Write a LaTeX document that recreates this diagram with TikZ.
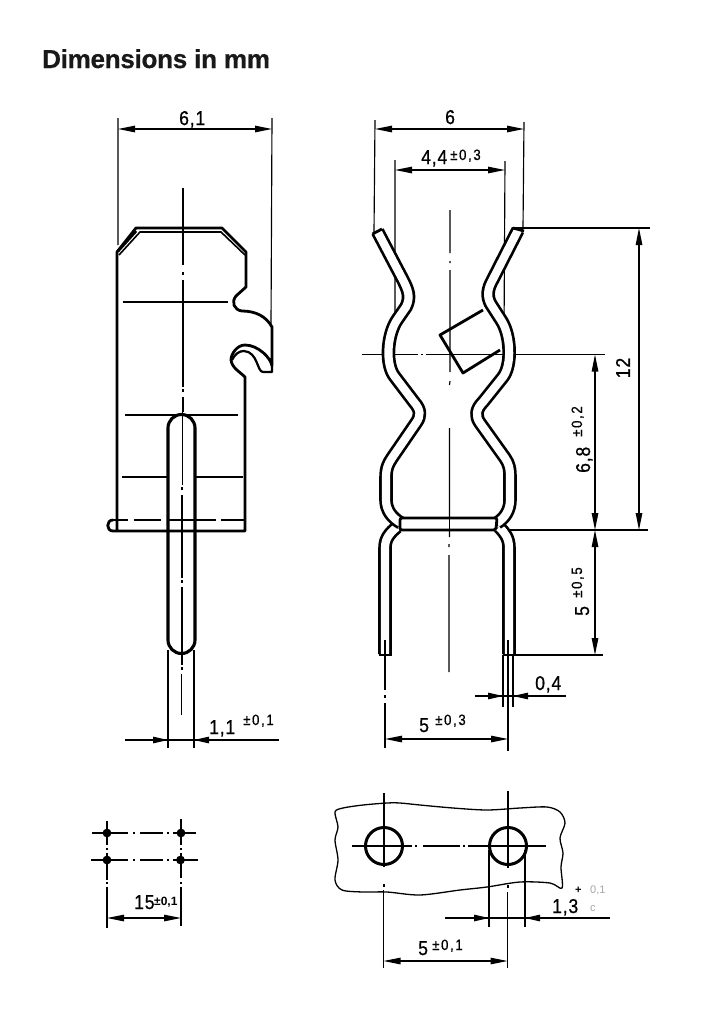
\documentclass[tikz,border=0pt]{standalone}
\usepackage{fontspec}
\setmainfont{Liberation Sans}
\newfontfamily\titlef[FakeBold=0.6,LetterSpace=-1]{Liberation Sans Bold}
\newfontfamily\dimf[FakeStretch=0.88,FakeBold=0.7,LetterSpace=4]{Liberation Sans}
\newfontfamily\tolf[FakeStretch=0.88,FakeBold=0.5,LetterSpace=11]{Liberation Sans}
\usetikzlibrary{arrows.meta}
\tikzset{
  thin line/.style={line width=1.15pt,black},
  outline/.style={line width=2.8pt,black,line join=round},
  wire/.style={line width=2.7pt,black,double=white,double distance=8.2pt,line join=round},
  dimline/.style={line width=1.1pt,black,{Stealth[length=17pt,width=6.5pt,inset=0pt]}-{Stealth[length=17pt,width=6.5pt,inset=0pt]}},
  arr/.style={line width=1.1pt,black,-{Stealth[length=15pt,width=6.5pt,inset=0pt]}},
  dimtext/.style={font=\dimf\fontsize{20}{20}\selectfont,inner sep=0pt,anchor=base west,text=black},
  toltext/.style={font=\tolf\fontsize{15}{15}\selectfont,inner sep=0pt,anchor=base west,text=black},
}
\begin{document}
\begin{tikzpicture}[x=1pt,y=-1pt]
\useasboundingbox (0,0) rectangle (720,1020);
\fill[white] (0,0) rectangle (720,1020);
\node[font=\titlef\fontsize{26}{26}\selectfont,inner sep=0pt,anchor=base west,text=black!90] (title) at (42,68) {Dimensions in mm};

% ---------- left view ----------
\draw[thin line] (118,118)--(118,245) (272,118)--(271,325);
\draw[dimline] (118,129)--(272,129);
\node[dimtext] (a1) at (179,125) {6,1};
\draw[thin line] (183,188)--(183,265) (183,272)--(183,275) (183,280)--(183,387) (183,389)--(183,392) (183,397)--(183,412)
  (182.5,412)--(182.5,485) (182,487)--(182,490) (182,495)--(182,578) (182,580)--(182,583) (182,587)--(182,665) (182,667)--(182,670) (181.5,674)--(181.5,715);
\draw[thin line] (123,302)--(228,302) (125,415)--(238,415) (122,477)--(167,477) (196,477)--(243,477);
% body
\draw[outline] (117,531)--(117,252)--(136,228)--(222,228)--(246,252)--(246,287)--(236,296)
  .. controls (231,302) and (234,310) .. (242,311)
  .. controls (255,311) and (266,316) .. (272,327)--(272,366)
  .. controls (271,358) and (258,345) .. (245,345)
  .. controls (237,345) and (231,354) .. (231,360)
  .. controls (232,368) and (240,372) .. (245,377)--(245,531)--(113,531)
  .. controls (106,531) and (106,520) .. (113,520);
\draw[line width=1.6pt] (119,255)--(140,232)--(221,232)--(245,255);
\draw[line width=3pt] (118,251)--(136,231);
\draw[line width=2.2pt,line join=round] (272,366)--(272,372)--(263,372)
  .. controls (257,372) and (258,352) .. (244,351)
  .. controls (239,351) and (235,354) .. (232,360);
\draw[outline,dash pattern=on 15pt off 6pt on 27pt off 6pt] (113,520)--(167,520);
\draw[outline,dash pattern=on 20pt off 5pt on 27pt off 5pt] (196,520)--(245,520);
\draw[thin line] (168,650)--(168,748) (194,650)--(194,748);
% pin
\draw[line width=3.1pt] (168,428) arc[start angle=180,end angle=360,radius=13.5] -- (195,640)
  arc[start angle=0,end angle=180,radius=13.5] -- cycle;
\draw[outline] (168,520)--(195,520);
\draw[line width=1.1pt] (125,740)--(279,740);
\draw[arr] (150,740)--(168,740);
\draw[arr] (212,740)--(194,740);
\node[dimtext] (a2) at (209,734) {1,1};
\node[toltext] (a3) at (243,725) {±0,1};

% ---------- right view ----------
\draw[thin line] (375,120)--(374,232) (524,122)--(523,228);
\draw[dimline] (375,129)--(524,129);
\node[dimtext] (b1) at (445,124) {6};
\draw[thin line] (395,160)--(395,318) (505,161)--(504,335);
\draw[dimline] (395,170)--(505,170);
\node[dimtext] (b2) at (421,164) {4,4};
\node[toltext] (b3) at (450,160) {±0,3};
\draw[thin line] (450,210)--(450,253) (450,261)--(450,263) (450,270)--(450,372) (450,381)--(449.5,385) (449.5,428)--(449.5,537) (449,544)--(449,547) (449,555)--(449,672);
\draw[thin line] (513,228)--(650,228) (505,530)--(648,530) (510,655)--(603,655);
\draw[line width=1.4pt] (362,354.5)--(418,354.5) (421,354.5)--(423,354.5) (426,354.5)--(605,354.5);
\draw[dimline] (639,228)--(639,530);
\node[dimtext,rotate=90,anchor=center] (b4) at (623,368) {12};
\draw[dimline] (595,354.5)--(595,530);
\draw[dimline] (595,530)--(595,655);
\node[dimtext,rotate=90,anchor=base west] (b5) at (590,473) {6,8};
\node[toltext,rotate=90,anchor=base west] (b6) at (582,437) {±0,2};
\node[dimtext,rotate=90,anchor=base west] (b7) at (589,616) {5};
\node[toltext,rotate=90,anchor=base west] (b8) at (582,598) {±0,5};
% legs
\draw[wire] (397,527) .. controls (390,533) and (385,538) .. (385,548)--(385,654);
\draw[wire] (499,527) .. controls (505,533) and (509,538) .. (509,548)--(509,654);
\draw[outline] (378.5,655)--(391.5,655) (502.5,655)--(515.5,655);
% wire walls
\draw[wire] (377.5,231.5)--(403,280) .. controls (408,290) and (411,297) .. (406,307)--(397,320)
  .. controls (387,335) and (385,365) .. (395,377)--(414,402) .. controls (421,410) and (421,416) .. (416,423)
  --(392,458) .. controls (388,464) and (386,468) .. (386,478)--(386,500) .. controls (386,510) and (392,518) .. (401,523);
\draw[wire] (518,230)--(491,283) .. controls (487,291) and (487,299) .. (492,306)--(501,320)
  .. controls (511,335) and (512,365) .. (503,377)--(483,402) .. controls (476,409) and (475,416) .. (480,423)
  --(505,458) .. controls (509,464) and (510,468) .. (510,478)--(510,500) .. controls (510,510) and (505,518) .. (497,523);
\draw[outline] (372.5,234)--(382,229) (513,228)--(524,231);
% bar
\draw[line width=2.8pt,fill=white,rounded corners=2pt] (400,518)--(497,518)--(496,530)--(400,530)--cycle;
\draw[thin line] (449.5,518)--(449.5,530);
\draw[outline] (483,310)--(440,335)--(463,373)--(500,350);
\draw[thin line] (385,640)--(385,690) (385,695)--(385,698) (385,703)--(385,748);
\draw[thin line] (508,640)--(508,751);
\draw[thin line] (503,655)--(503,707) (513,655)--(513,707);
\draw[line width=1.1pt] (475,696)--(566,696);
\draw[arr] (487,696)--(503,696);
\draw[arr] (529,696)--(513,696);
\node[dimtext] (b9) at (535,690) {0,4};
\draw[dimline] (385,739)--(508,739);
\node[dimtext] (b10) at (419,732) {5};
\node[toltext] (b11) at (435,725) {±0,3};

% ---------- hole pattern ----------
\draw[thin line,line width=1.3pt] (92,833)--(128,833) (133,833)--(135,833) (140,833)--(163,833) (167,833)--(169,833) (173,833)--(196,833)
  (91,860)--(128,860) (133,860)--(135,860) (140,860)--(163,860) (167,860)--(169,860) (173,860)--(198,860);
\draw[thin line,line width=1.3pt] (107,821)--(107,845) (107,848)--(107,850) (107,853)--(107,880) (107,882)--(107,884) (107,887)--(107,928)
  (181,819)--(181,845) (181,848)--(181,850) (181,853)--(181,878) (181,882)--(181,884) (181,887)--(181,926);
\foreach \p/\q in {107/833,181/833,107/860,180.5/860}{\fill (\p,\q) circle[radius=4.4];}
\draw[dimline] (107,918)--(181,918);
\node[dimtext] (c1) at (134,909) {15};
\node[toltext,font=\bfseries\fontsize{12}{12}\selectfont] (c2) at (154,905) {±0,1};

% ---------- board ----------
\draw[line width=1.3pt] plot[smooth cycle,tension=0.5] coordinates {(335,812)(343,808)(363,805)(387,803)(400,803)(420,805)(453,808)(487,810)(520,808)(547,807)(560,812)(565,823)(560,838)(563,853)(561,867)(562,888)(550,883)(520,882)(487,887)(460,890)(420,895)(387,892)(363,892)(342,890)(335,880)(338,860)(335,840)(338,827)};
\draw[line width=3pt] (384,846) circle[radius=18.5] (508,846) circle[radius=18.5];
\draw[thin line,line width=1.3pt] (352,846)--(412,846) (415,846)--(417,846) (423,846)--(460,846) (463,846)--(465,846) (468,846)--(546,846);
\draw[thin line,line width=1.3pt] (384,793)--(384,867) (384,884)--(384,887) (383.5,890)--(383.5,968);
\draw[thin line,line width=1.3pt] (508,791)--(508,868) (508,885)--(508,888) (507.5,892)--(507.5,968);
\draw[thin line] (489,850)--(489,927) (525,850)--(525,927);
\draw[line width=1.1pt] (445,918)--(610,918);
\draw[arr] (472,918)--(489,918);
\draw[arr] (542,918)--(525,918);
\node[dimtext] (d1) at (552,913) {1,3};
\node[toltext,font=\bfseries\fontsize{11}{11}\selectfont] (d2) at (575,893) {+};
\node[toltext,text=black!35,font=\fontsize{11}{11}\selectfont] (d3) at (590,893) {0,1};
\node[toltext,text=black!35,font=\fontsize{11}{11}\selectfont] (d4) at (590,911) {c};
\draw[dimline] (383.5,961)--(507.5,961);
\node[dimtext] (d5) at (418,955) {5};
\node[toltext] (d6) at (432,950) {±0,1};
\end{tikzpicture}
\end{document}
